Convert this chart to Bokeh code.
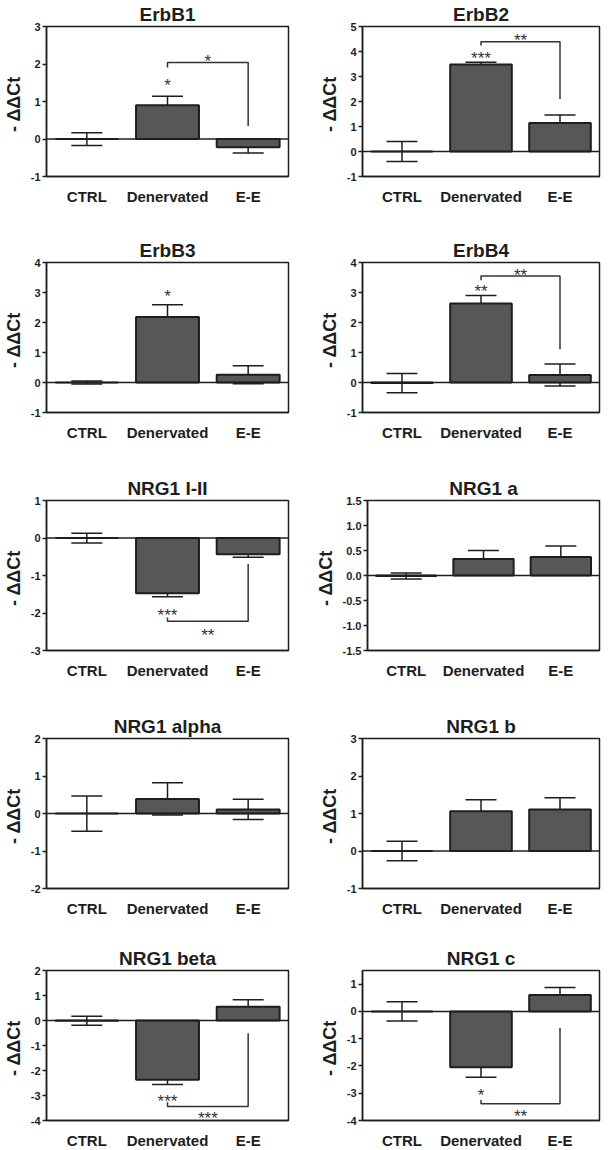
from bokeh.plotting import figure
from bokeh.models import (ColumnDataSource, Whisker, TeeHead, Span, FixedTicker, Range1d)
from bokeh.layouts import column, row
from bokeh.core.properties import value
from bokeh.embed import file_html
from bokeh.resources import INLINE

# ---------------- data ----------------
categories = ["CTRL", "Denervated", "E-E"]

titles = ["ErbB1", "ErbB2", "ErbB3", "ErbB4", "NRG1 I-II",
          "NRG1 a", "NRG1 alpha", "NRG1 b", "NRG1 beta", "NRG1 c"]

erbb1_mean = [0.0, 0.90, -0.22]
erbb1_sem = [0.17, 0.24, 0.15]
erbb2_mean = [0.0, 3.48, 1.14]
erbb2_sem = [0.40, 0.09, 0.32]
erbb3_mean = [0.0, 2.18, 0.26]
erbb3_sem = [0.05, 0.41, 0.30]
erbb4_mean = [-0.02, 2.63, 0.25]
erbb4_sem = [0.32, 0.27, 0.37]
nrg1_i_ii_mean = [0.0, -1.47, -0.43]
nrg1_i_ii_sem = [0.13, 0.095, 0.08]
nrg1_a_mean = [-0.01, 0.33, 0.37]
nrg1_a_sem = [0.06, 0.17, 0.22]
nrg1_alpha_mean = [0.0, 0.39, 0.11]
nrg1_alpha_sem = [0.47, 0.43, 0.27]
nrg1_b_mean = [0.0, 1.06, 1.11]
nrg1_b_sem = [0.26, 0.31, 0.31]
nrg1_beta_mean = [-0.01, -2.37, 0.55]
nrg1_beta_sem = [0.18, 0.19, 0.28]
nrg1_c_mean = [0.0, -2.05, 0.60]
nrg1_c_sem = [0.35, 0.36, 0.28]

means = [erbb1_mean, erbb2_mean, erbb3_mean, erbb4_mean, nrg1_i_ii_mean,
         nrg1_a_mean, nrg1_alpha_mean, nrg1_b_mean, nrg1_beta_mean, nrg1_c_mean]
sems = [erbb1_sem, erbb2_sem, erbb3_sem, erbb4_sem, nrg1_i_ii_sem,
        nrg1_a_sem, nrg1_alpha_sem, nrg1_b_sem, nrg1_beta_sem, nrg1_c_sem]

y_ranges = [(-1, 3), (-1, 5), (-1, 4), (-1, 4), (-3, 1),
            (-1.5, 1.5), (-2, 2), (-1, 3), (-4, 2), (-4, 1.5)]

y_ticks = [[-1, 0, 1, 2, 3], [-1, 0, 1, 2, 3, 4, 5], [-1, 0, 1, 2, 3, 4],
           [-1, 0, 1, 2, 3, 4], [-3, -2, -1, 0, 1],
           [-1.5, -1.0, -0.5, 0.0, 0.5, 1.0, 1.5], [-2, -1, 0, 1, 2],
           [-1, 0, 1, 2, 3], [-4, -3, -2, -1, 0, 1, 2], [-4, -3, -2, -1, 0, 1]]
y_tick_labels = [["-1", "0", "1", "2", "3"], ["-1", "0", "1", "2", "3", "4", "5"],
                 ["-1", "0", "1", "2", "3", "4"], ["-1", "0", "1", "2", "3", "4"],
                 ["-3", "-2", "-1", "0", "1"],
                 ["-1.5", "-1.0", "-0.5", "0.0", "0.5", "1.0", "1.5"],
                 ["-2", "-1", "0", "1", "2"], ["-1", "0", "1", "2", "3"],
                 ["-4", "-3", "-2", "-1", "0", "1", "2"],
                 ["-4", "-3", "-2", "-1", "0", "1"]]

# significance marks vs CTRL: panel index -> (category, y, text)
bar_stars = {0: ("Denervated", 1.57, "*"), 1: ("Denervated", 3.92, "***"),
             2: ("Denervated", 3.02, "*"), 3: ("Denervated", 3.20, "**"),
             4: ("Denervated", -1.94, "***"), 8: ("Denervated", -3.03, "***"),
             9: ("Denervated", -2.89, "*")}

# brackets Denervated vs E-E: panel -> (y_level, y_left_end, y_right_end, label_y, text)
brackets = {0: (2.04, 1.91, 0.35, 2.20, "*"),
            1: (4.39, 4.24, 2.10, 4.64, "**"),
            3: (3.55, 3.41, 1.11, 3.75, "**"),
            4: (-2.22, -2.12, -0.69, -2.47, "**"),
            8: (-3.44, -3.27, -0.51, -3.70, "***"),
            9: (-3.39, -3.25, -0.61, -3.66, "**")}

# ---------------- style ----------------
FONT = "Liberation Sans"
BAR = "#575757"
INK = "#1e1e1e"

row_top = [20, 55, 57, 57, 51]
row_bottom = [30, 30, 30, 30, 24]


def make_panel(i):
    r, c = divmod(i, 2)
    if c == 0:
        left, fw, right = 37, 242, 17
    else:
        left, fw, right = (62, 232, 3) if i == 5 else (57, 237, 3)
    lo, hi = y_ranges[i]
    p = figure(x_range=categories, y_range=Range1d(lo, hi),
               frame_width=fw, frame_height=150,
               min_border_left=left, min_border_right=right,
               min_border_top=row_top[r], min_border_bottom=row_bottom[r],
               output_backend="svg", toolbar_location=None,
               background_fill_color="white", border_fill_color="white")
    p.title.text = titles[i]
    p.title.align = "center"
    p.title.text_font = FONT
    p.title.text_font_size = "19px"
    p.title.text_font_style = "bold"
    p.title.text_color = INK
    p.title.standoff = 3

    p.xgrid.visible = False
    p.ygrid.visible = False
    p.outline_line_color = INK
    p.outline_line_width = 1.5

    src = ColumnDataSource(dict(
        x=categories, top=means[i],
        upper=[m + s for m, s in zip(means[i], sems[i])],
        lower=[m - s for m, s in zip(means[i], sems[i])]))
    p.vbar(x="x", top="top", bottom=0, width=0.78, source=src,
           fill_color=BAR, line_color=INK, line_width=2)
    p.add_layout(Span(location=0, dimension="width", line_color=INK, line_width=1.5))
    p.add_layout(Whisker(base="x", upper="upper", lower="lower", source=src,
                         dimension="height", line_color=INK, line_width=1.5,
                         upper_head=TeeHead(size=31, line_color=INK, line_width=1.5),
                         lower_head=TeeHead(size=31, line_color=INK, line_width=1.5)))

    if i in bar_stars:
        cat, ys, txt = bar_stars[i]
        p.text(x=[cat], y=[ys], text=[txt], text_font=value(FONT),
               text_font_size="17px", text_align="center", text_baseline="middle",
               y_offset=5, text_color="#333333")
    if i in brackets:
        yl, yle, yre, ly, txt = brackets[i]
        p.line(x=["Denervated", "Denervated", "E-E", "E-E"], y=[yle, yl, yl, yre],
               line_color="#333333", line_width=1.5)
        mid = (categories.index("Denervated") + categories.index("E-E")) / 2 + 0.5
        p.text(x=[mid], y=[ly], text=[txt], text_font=value(FONT),
               text_font_size="17px", text_align="center", text_baseline="middle",
               y_offset=5, text_color="#333333")

    ya = p.yaxis[0]
    ya.ticker = FixedTicker(ticks=y_ticks[i])
    ya.major_label_overrides = {t: s for t, s in zip(y_ticks[i], y_tick_labels[i])}
    ya.major_label_text_font = FONT
    ya.major_label_text_font_size = "11px"
    ya.major_label_text_font_style = "bold"
    ya.major_label_text_color = INK
    ya.major_label_standoff = 2
    ya.major_tick_in = 0
    ya.major_tick_out = 4
    ya.major_tick_line_width = 1.5
    ya.major_tick_line_color = INK
    ya.minor_tick_line_color = None
    ya.axis_line_color = INK
    ya.axis_line_width = 1.5
    ya.axis_label = "-  \u0394\u0394Ct"
    ya.axis_label_text_font = FONT
    ya.axis_label_text_font_size = "18px"
    ya.axis_label_text_font_style = "bold"
    ya.axis_label_text_color = INK
    ya.axis_label_standoff = 4

    xa = p.xaxis[0]
    xa.major_label_text_font = FONT
    xa.major_label_text_font_size = "15px"
    xa.major_label_text_font_style = "bold"
    xa.major_label_text_color = INK
    xa.major_label_standoff = 5
    xa.major_tick_line_color = None
    xa.minor_tick_line_color = None
    xa.axis_line_color = INK
    xa.axis_line_width = 1.5
    return p


panels = [make_panel(i) for i in range(10)]
layout = column(*[row(panels[2 * k], panels[2 * k + 1]) for k in range(5)])

html = file_html(layout, INLINE, title="Bar charts")
open("out.html", "w").write(html)
